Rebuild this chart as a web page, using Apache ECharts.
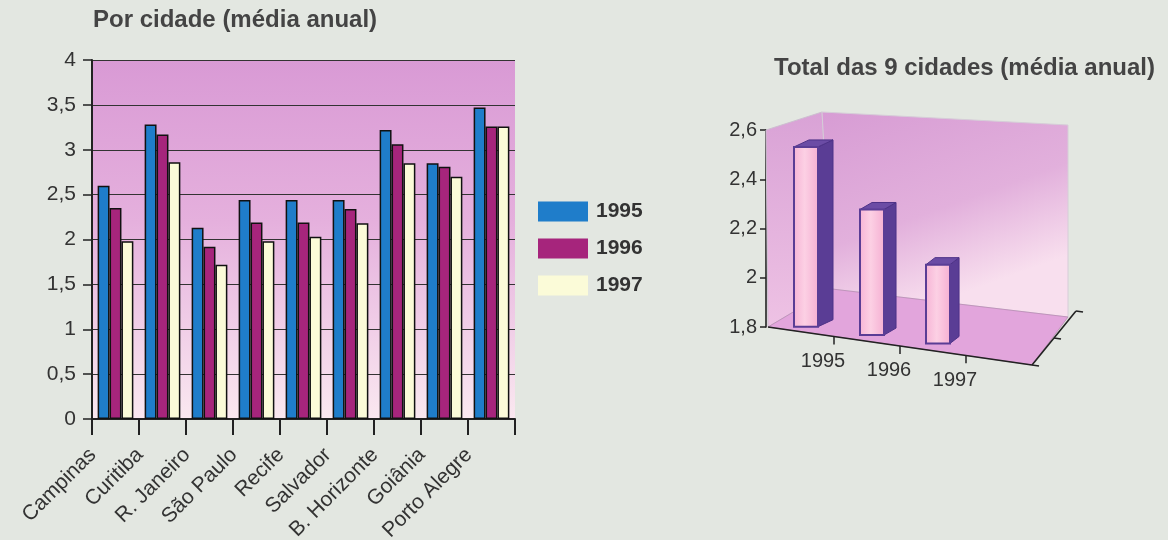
<!DOCTYPE html>
<html>
<head>
<meta charset="utf-8">
<script src="https://cdn.jsdelivr.net/npm/echarts@6/dist/echarts.min.js"></script>
<style>
  html, body { margin: 0; padding: 0; background: #e3e7e1; }
  #chart { width: 1168px; height: 540px; }
</style>
</head>
<body>
<div id="chart"></div>
<script>
// Cities and yearly averages (left panel)
const cities = ['Campinas', 'Curitiba', 'R. Janeiro', 'São Paulo', 'Recife', 'Salvador', 'B. Horizonte', 'Goiânia', 'Porto Alegre'];
const years = ['1995', '1996', '1997'];
const values1995 = [2.60, 3.28, 2.13, 2.44, 2.44, 2.44, 3.22, 2.85, 3.47];
const values1996 = [2.35, 3.17, 1.92, 2.19, 2.19, 2.34, 3.06, 2.81, 3.26];
const values1997 = [1.98, 2.86, 1.72, 1.98, 2.03, 2.18, 2.85, 2.70, 3.26];

// Total of the 9 cities (right panel)
const totalYears = ['1995', '1996', '1997'];
const totalValues = [2.53, 2.31, 2.12];

const leftTitle = 'Por cidade (média anual)';
const rightTitle = 'Total das 9 cidades (média anual)';

const FONT = '"Liberation Sans", Arial, sans-serif';
const TXT = '#333';
const comma = v => String(Number(v.toFixed(1))).replace('.', ',');

const chart = echarts.init(document.getElementById('chart'), null, { renderer: 'canvas' });

// Pseudo-3D box geometry of the right panel, relative to its grid rectangle
const AXIS_OFF = 6;          // y axis sits this far left of the grid
const FLOOR_SLOPE = 0.143;   // front floor edge drops to the right
const BAR_SLOPE = 0.127;     // baseline of the bars drops to the right

function frameItem(params, api) {
  const cs = params.coordSys;
  const L = cs.x, T = cs.y, R = cs.x + cs.width, B = cs.y + cs.height;
  const ax = L - AXIS_OFF;
  const fl = [ax + 2, B];                     // front-left floor corner
  const fr = [R + 62, B + 38];                // front-right floor corner
  const bl = [L + 60, B - 38];                // back-left floor corner
  const br = [R + 98, B - 10];                // back-right floor corner
  const tl = [L + 50, T - 18];                // back-left top corner
  const tr = [R + 98, T - 5];                 // back-right top corner
  const band = api.size([1, 0])[0];
  const children = [
    { type: 'polygon', shape: { points: [[ax, T], tl, bl, fl] },
      style: { fill: new echarts.graphic.LinearGradient(0, 0, 0, 1, [
        { offset: 0, color: '#d9a2d6' }, { offset: 1, color: '#eec2e4' }]),
        stroke: '#cdbfd0', lineWidth: 1 } },
    { type: 'polygon', shape: { points: [tl, tr, br, bl] },
      style: { fill: new echarts.graphic.LinearGradient(0, 0, 0.3, 1, [
        { offset: 0, color: '#d79cd4' }, { offset: 0.6, color: '#e2b0dc' }, { offset: 1, color: '#f8dfee' }]),
        stroke: '#d6cdd8', lineWidth: 1 } },
    { type: 'polygon', shape: { points: [fl, fr, br, bl] },
      style: { fill: '#e2a5dc', stroke: '#b98ab4', lineWidth: 0.8 } },
    { type: 'polyline', shape: { points: [fl, fr] }, style: { stroke: '#222', lineWidth: 1.6, fill: null } },
    { type: 'polyline', shape: { points: [fr, [br[0] + 8, br[1] - 6]] }, style: { stroke: '#222', lineWidth: 1.6, fill: null } }
  ];
  // tick marks between categories along the front floor edge
  for (let k = 1; k <= 3; k++) {
    const x = L + band * k - 4;
    const y = fl[1] + (x - fl[0]) * FLOOR_SLOPE;
    children.push({ type: 'line', shape: { x1: x, y1: y, x2: x, y2: y + 8 }, style: { stroke: '#222', lineWidth: 1.5 } });
  }
  // tick marks on the depth edge
  for (let k = 0; k <= 2; k++) {
    const t = k / 2;
    const x = fr[0] + (br[0] + 8 - fr[0]) * t;
    const y = fr[1] + (br[1] - 6 - fr[1]) * t;
    children.push({ type: 'line', shape: { x1: x, y1: y, x2: x + 7, y2: y + 1 }, style: { stroke: '#222', lineWidth: 1.5 } });
  }
  return { type: 'group', children };
}

function barItem(params, api) {
  const cs = params.coordSys;
  const L = cs.x, B = cs.y + cs.height;
  const i = api.value(0);
  const top = api.coord([i, api.value(1)]);
  const base = api.coord([i, 1.8]);
  const h = base[1] - top[1];
  const cx = top[0];
  const bottom = B - 4.5 + (cx - L) * BAR_SLOPE;
  const ty = bottom - h;
  const x0 = cx - 11, x1 = cx + 13;
  const dx = 15 - (cx - L - 33) * 0.045, dy = -7;
  const edgeY = B + (cx - (L - AXIS_OFF + 2)) * FLOOR_SLOPE;
  return {
    type: 'group',
    children: [
      { type: 'polygon', shape: { points: [[x1, ty], [x1 + dx, ty + dy], [x1 + dx, bottom + dy], [x1, bottom]] },
        style: { fill: '#5a3d95', stroke: '#4d3287', lineWidth: 1 } },
      { type: 'polygon', shape: { points: [[x0, ty], [x0 + dx, ty + dy], [x1 + dx, ty + dy], [x1, ty]] },
        style: { fill: '#6b4ca5', stroke: '#4d3287', lineWidth: 1 } },
      { type: 'rect', shape: { x: x0, y: ty, width: x1 - x0, height: bottom - ty },
        style: { fill: new echarts.graphic.LinearGradient(0, 0, 1, 0, [
          { offset: 0, color: '#f6b3d5' }, { offset: 0.45, color: '#fcd0e4' }, { offset: 1, color: '#f5aed2' }]),
          stroke: '#5a3d95', lineWidth: 2 } },
      { type: 'text', x: cx + 18, y: edgeY + 29,
        style: { text: totalYears[i], fill: TXT, font: '20px ' + FONT, align: 'center', verticalAlign: 'middle' } }
    ]
  };
}

const option = {
  backgroundColor: '#e3e7e1',
  animation: false,
  textStyle: { fontFamily: FONT },
  title: [
    { text: leftTitle, left: 93, top: 8, padding: 0, textStyle: { fontSize: 24, fontWeight: 'bold', color: '#444', fontFamily: FONT } },
    { text: rightTitle, right: 13, top: 56, padding: 0, textStyle: { fontSize: 24, fontWeight: 'bold', color: '#444', fontFamily: FONT } }
  ],
  legend: {
    orient: 'vertical', left: 538, top: 201, itemWidth: 50, itemHeight: 20, itemGap: 16, padding: 0,
    icon: 'rect', data: years,
    itemStyle: { borderWidth: 0 },
    textStyle: { fontSize: 21, fontWeight: 'bold', color: TXT, fontFamily: FONT, padding: [0, 0, 0, 3] }
  },
  grid: [
    { left: 92, top: 60, width: 423, height: 359, show: true, borderWidth: 0, outerBoundsMode: 'none', containLabel: false,
      backgroundColor: new echarts.graphic.LinearGradient(0, 0, 0, 1, [
        { offset: 0, color: '#d99ad5' }, { offset: 0.45, color: '#e5b0dd' }, { offset: 1, color: '#fae8f0' }]) },
    { left: 772, top: 130, width: 198, height: 197, outerBoundsMode: 'none', containLabel: false }
  ],
  xAxis: [
    { type: 'category', gridIndex: 0, data: cities,
      axisLine: { lineStyle: { color: '#222', width: 2 } },
      axisTick: { show: true, alignWithLabel: false, length: 16, lineStyle: { color: '#222', width: 2 } },
      axisLabel: { rotate: 45, fontSize: 21, color: TXT, fontFamily: FONT, margin: 10, interval: 0, padding: [0, 32, 0, 0] } },
    { type: 'category', gridIndex: 1, data: totalYears, show: false }
  ],
  yAxis: [
    { type: 'value', gridIndex: 0, min: 0, max: 4, interval: 0.5,
      axisLine: { show: true, lineStyle: { color: '#222', width: 2 } },
      axisTick: { show: true, length: 9, lineStyle: { color: '#222', width: 1.5 } },
      splitLine: { show: true, lineStyle: { color: '#333', width: 1.2 } },
      axisLabel: { fontSize: 21, color: TXT, fontFamily: FONT, margin: 16, formatter: comma } },
    { type: 'value', gridIndex: 1, min: 1.8, max: 2.6, interval: 0.2, offset: AXIS_OFF,
      axisLine: { show: true, lineStyle: { color: '#222', width: 1.6 } },
      axisTick: { show: true, length: 6, lineStyle: { color: '#222', width: 1.5 } },
      splitLine: { show: false },
      axisLabel: { fontSize: 20, color: TXT, fontFamily: FONT, margin: 9, formatter: comma } }
  ],
  series: [
    { name: '1995', type: 'bar', xAxisIndex: 0, yAxisIndex: 0, data: values1995, barGap: '0%', barCategoryGap: '24%',
      itemStyle: { color: '#1f7dca', borderColor: '#111', borderWidth: 1.5 } },
    { name: '1996', type: 'bar', xAxisIndex: 0, yAxisIndex: 0, data: values1996, barGap: '0%', barCategoryGap: '24%',
      itemStyle: { color: '#a6257c', borderColor: '#111', borderWidth: 1.5 } },
    { name: '1997', type: 'bar', xAxisIndex: 0, yAxisIndex: 0, data: values1997, barGap: '0%', barCategoryGap: '24%',
      itemStyle: { color: '#fbfbd8', borderColor: '#111', borderWidth: 1.5 } },
    { type: 'custom', xAxisIndex: 1, yAxisIndex: 1, renderItem: frameItem, data: [[0, 1.8]], z: 1, silent: true, clip: false },
    { type: 'custom', xAxisIndex: 1, yAxisIndex: 1, renderItem: barItem,
      data: totalValues.map((v, i) => [i, v]), z: 3, silent: true, clip: false }
  ]
};

chart.setOption(option);
</script>
</body>
</html>
